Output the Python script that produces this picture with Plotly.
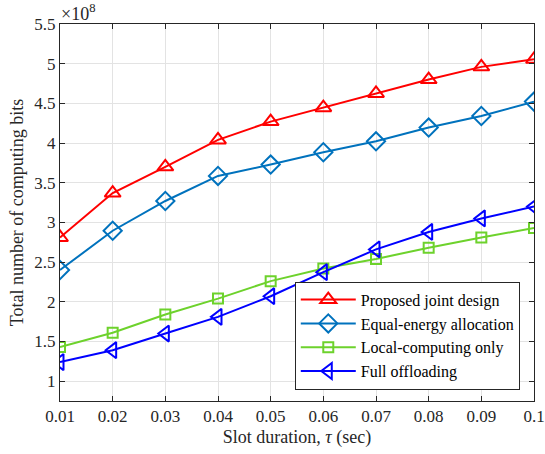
import plotly.graph_objects as go

tau = [0.01, 0.02, 0.03, 0.04, 0.05, 0.06, 0.07, 0.08, 0.09, 0.1]
proposed = [2.81, 3.37, 3.70, 4.04, 4.27, 4.445, 4.625, 4.80, 4.96, 5.055]
equal_energy = [2.40, 2.895, 3.27, 3.586, 3.729, 3.884, 4.022, 4.195, 4.341, 4.522]
local_only = [1.43, 1.61, 1.84, 2.04, 2.26, 2.42, 2.54, 2.68, 2.81, 2.93]
full_off = [1.24, 1.39, 1.60, 1.81, 2.07, 2.373, 2.66, 2.88, 3.05, 3.20]

xticks = [0.01, 0.02, 0.03, 0.04, 0.05, 0.06, 0.07, 0.08, 0.09, 0.1]
xtick_labels = ["0.01", "0.02", "0.03", "0.04", "0.05", "0.06", "0.07", "0.08", "0.09", "0.1"]
yticks = [1, 1.5, 2, 2.5, 3, 3.5, 4, 4.5, 5, 5.5]
ytick_labels = ["1", "1.5", "2", "2.5", "3", "3.5", "4", "4.5", "5", "5.5"]

FONT = "Liberation Serif"

series = [
    ("Proposed joint design", proposed, "#FF0000", "triangle-up-open", 14),
    ("Equal-energy allocation", equal_energy, "#0072BD", "diamond-open", 14),
    ("Local-computing only", local_only, "#6DD22C", "square-open", 10),
    ("Full offloading", full_off, "#0000FF", "triangle-left-open", 14),
]

fig = go.Figure()
for name, vals, color, sym, size in series:
    fig.add_trace(go.Scatter(
        x=tau, y=vals, name=name, mode="lines+markers",
        line=dict(color=color, width=2),
        marker=dict(symbol=sym, size=size, color=color, line=dict(width=2, color=color)),
    ))

axis_common = dict(
    showline=True, linecolor="#262626", linewidth=1, mirror="allticks",
    ticks="inside", ticklen=5, tickcolor="#262626",
    showgrid=True, gridcolor="#E3E3E3", gridwidth=1, zeroline=False,
    tickfont=dict(family=FONT, size=17, color="#262626"),
    automargin=False, ticklabeloverflow="allow",
)

fig.update_layout(
    width=545, height=454,
    margin=dict(l=60, r=11, t=24, b=53),
    paper_bgcolor="white", plot_bgcolor="white",
    font=dict(family=FONT, color="#262626"),
    showlegend=True,
    legend=dict(
        x=0.97, y=0.03, xanchor="right", yanchor="bottom",
        bgcolor="white", bordercolor="#262626", borderwidth=1,
        font=dict(family=FONT, size=16, color="black"),
        tracegroupgap=0, itemwidth=55,
    ),
    xaxis=dict(
        range=[0.01, 0.1], tickvals=xticks, ticktext=xtick_labels,
        title=dict(text="Slot duration, <i>τ</i> (sec)", font=dict(family=FONT, size=18, color="#262626"), standoff=4),
        **axis_common,
    ),
    yaxis=dict(
        range=[0.75, 5.5], tickvals=yticks, ticktext=ytick_labels,
        title=dict(text="Total number of computing bits", font=dict(family=FONT, size=18, color="#262626"), standoff=6),
        **axis_common,
    ),
)

fig.add_annotation(
    x=0, y=1, xref="paper", yref="paper", xanchor="left", yanchor="bottom",
    text="×10<sup>8</sup>", showarrow=False, yshift=-2, xshift=-1,
    font=dict(family=FONT, size=18, color="#262626"),
)

fig.write_html("out.html", config={"displayModeBar": False},
               post_script="document.body.style.margin='0';")
